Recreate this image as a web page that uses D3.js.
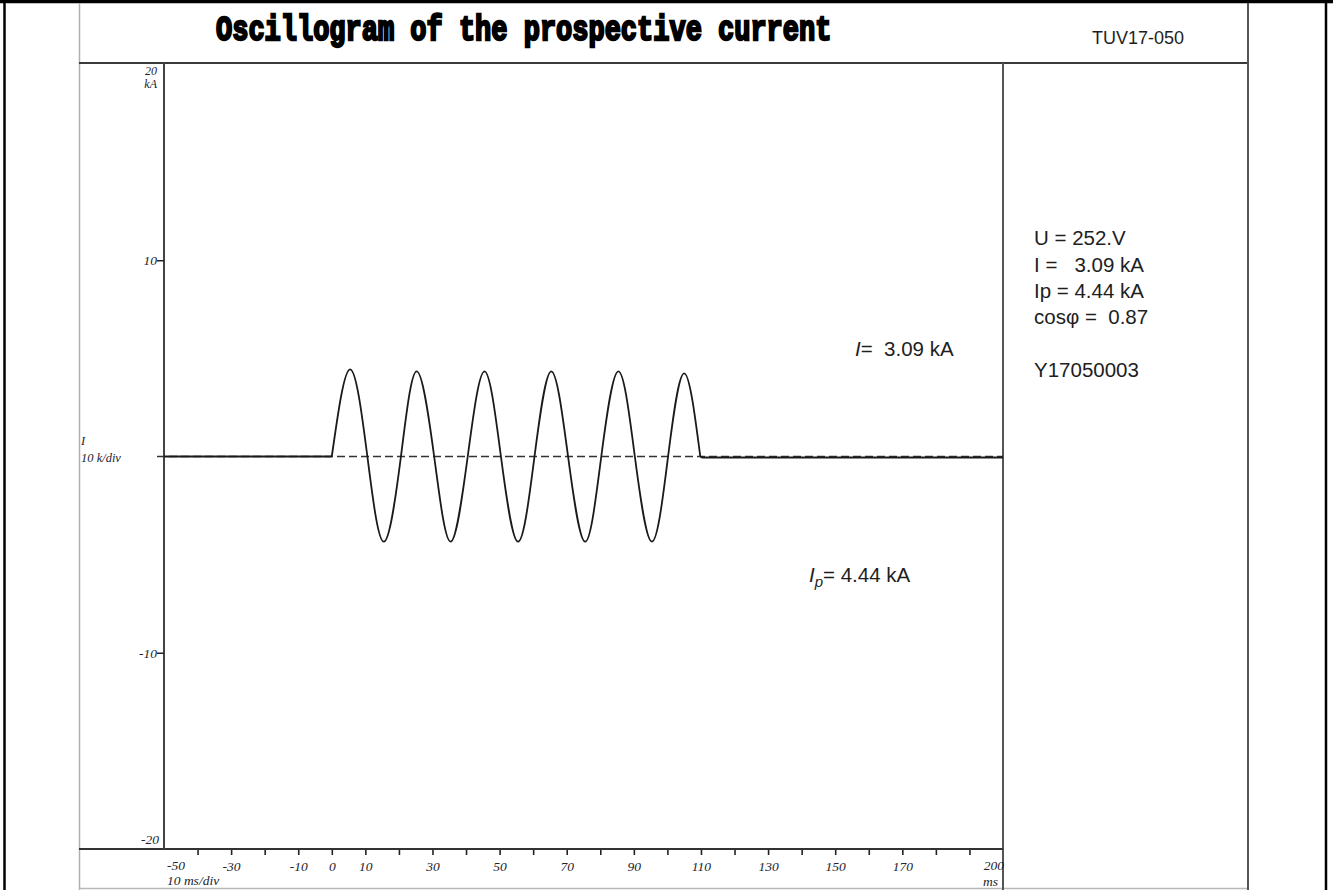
<!DOCTYPE html>
<html>
<head>
<meta charset="utf-8">
<script src="https://cdn.jsdelivr.net/npm/d3@7/dist/d3.min.js"></script>
<style>
  html, body { margin: 0; padding: 0; background: #fff; }
  svg { display: block; }
  .serif { font-family: "Liberation Serif", "Times New Roman", serif; font-style: italic; fill: #23232e; }
  .sans { font-family: "Liberation Sans", Arial, sans-serif; fill: #1e1e1e; white-space: pre; }
</style>
</head>
<body>
<svg id="chart" width="1333" height="890"></svg>
<script>
// Time axis (ms): tick marks and the labels printed under them
const xTickMarks = [-40, -30, -20, -10, 0, 10, 20, 30, 40, 50, 60, 70, 80, 90, 100, 110, 120, 130, 140, 150, 160, 170, 180, 190];
const xTickLabels = [-30, -10, 0, 10, 30, 50, 70, 90, 110, 130, 150, 170];
const xEdgeLabels = [-50, 200];

// Current axis (kA)
const yTickMarks = [10, -10];
const yEdgeLabels = [20, -20];

// Trace before the making instant (ms, kA)
const preTime = [-50, 0];
const preCurrent = [0, 0];

// Oscillation: zero crossings, crests and troughs (ms, kA)
const waveTime = [0, 5.46, 10.6, 15.5, 20.6, 25.3, 30.5, 35.4, 40.5, 45.5, 50.4, 55.5, 60.4, 65.4, 70.4, 75.5, 80.3, 85.4, 90.3, 95.4, 100.2, 105.0, 109.8];
const waveCurrent = [0, 4.44, 0, -4.34, 0, 4.34, 0, -4.34, 0, 4.34, 0, -4.34, 0, 4.34, 0, -4.34, 0, 4.34, 0, -4.34, 0, 4.24, 0];

// Trace after the current is interrupted (ms, kA)
const postTime = [109.8, 110.3, 200];
const postCurrent = [0, -0.05, -0.05];

// Test results
const resultLines = ["U = 252.V", "I =   3.09 kA", "Ip = 4.44 kA", "cosφ =  0.87"];
const recordId = "Y17050003";
const reportId = "TUV17-050";
const titleText = "Oscillogram of the prospective current";

const svg = d3.select("#chart");

const x = d3.scaleLinear().domain([-50, 200]).range([164, 1003]);
const y = d3.scaleLinear().domain([-20, 20]).range([849, 64]);

// ---- frame ----
const frame = svg.append("g");
// outer black border
frame.append("line").attr("x1", 0).attr("x2", 1333).attr("y1", 1.5).attr("y2", 1.5).attr("stroke", "#000").attr("stroke-width", 3.5);
frame.append("line").attr("x1", 4.5).attr("x2", 4.5).attr("y1", 0).attr("y2", 890).attr("stroke", "#000").attr("stroke-width", 2.5);
frame.append("line").attr("x1", 1326).attr("x2", 1326).attr("y1", 0).attr("y2", 890).attr("stroke", "#000").attr("stroke-width", 2.5);
// sheet left edge and bottom
frame.append("line").attr("x1", 79.5).attr("x2", 79.5).attr("y1", 3).attr("y2", 890).attr("stroke", "#b0b0b0").attr("stroke-width", 1.5);
frame.append("line").attr("x1", 79).attr("x2", 1248).attr("y1", 888.5).attr("y2", 888.5).attr("stroke", "#b8b8b8").attr("stroke-width", 1.5);
// header bottom
frame.append("line").attr("x1", 79).attr("x2", 1249).attr("y1", 63).attr("y2", 63).attr("stroke", "#3a3a3a").attr("stroke-width", 2);
// right column edge
frame.append("line").attr("x1", 1248).attr("x2", 1248).attr("y1", 3).attr("y2", 890).attr("stroke", "#555").attr("stroke-width", 2);
// plot right edge
frame.append("line").attr("x1", x(200)).attr("x2", x(200)).attr("y1", 63).attr("y2", 890).attr("stroke", "#555").attr("stroke-width", 2);

// ---- header ----
svg.append("text")
  .attr("transform", "translate(216,40) scale(1,1.3)")
  .attr("font-family", "'Liberation Mono', 'Courier New', monospace")
  .attr("font-weight", "bold")
  .attr("font-size", 27)
  .attr("fill", "#000")
  .attr("stroke", "#000")
  .attr("stroke-width", 1.8)
  .style("white-space", "pre")
  .text(titleText);

svg.append("text").attr("class", "sans").attr("x", 1092).attr("y", 44).attr("font-size", 18).text(reportId);

// ---- axes ----
const tickFont = 13.5;
const xAxis = d3.axisBottom(x)
  .tickValues(xTickMarks)
  .tickSize(6)
  .tickPadding(6)
  .tickFormat(d => xTickLabels.includes(d) ? d3.format("d")(d).replace("−", "-") : "");

const gx = svg.append("g").attr("transform", `translate(0,${y(-20)})`).call(xAxis);
gx.select(".domain").remove();
gx.selectAll(".tick line").attr("stroke", "#222").attr("stroke-width", 1.6);
gx.selectAll(".tick text").attr("class", "serif").attr("font-size", tickFont).attr("fill", "#23232e");

// bottom axis line runs from the sheet edge to the plot edge
svg.append("line").attr("x1", 79).attr("x2", x(200)).attr("y1", y(-20)).attr("y2", y(-20)).attr("stroke", "#333").attr("stroke-width", 2);
// left axis line
svg.append("line").attr("x1", x(-50)).attr("x2", x(-50)).attr("y1", 63).attr("y2", y(-20)).attr("stroke", "#444").attr("stroke-width", 2);

// end labels of the time axis
svg.append("text").attr("class", "serif").attr("x", x(xEdgeLabels[0]) + 3).attr("y", 870).attr("font-size", tickFont).text(xEdgeLabels[0]);
svg.append("text").attr("class", "serif").attr("x", x(xEdgeLabels[1]) + 1).attr("y", 870).attr("font-size", tickFont).attr("text-anchor", "end").text(xEdgeLabels[1]);
svg.append("text").attr("class", "serif").attr("x", x(-50) + 3).attr("y", 885).attr("font-size", tickFont).text("10 ms/div");
svg.append("text").attr("class", "serif").attr("x", x(200) - 5).attr("y", 886).attr("font-size", tickFont).attr("text-anchor", "end").text("ms");

const yAxis = d3.axisLeft(y)
  .tickValues(yTickMarks)
  .tickSize(7)
  .tickPadding(0)
  .tickFormat(d => d3.format("d")(d).replace("−", "-"));
const gy = svg.append("g").attr("transform", `translate(${x(-50)},0)`).call(yAxis);
gy.select(".domain").remove();
gy.selectAll(".tick line").attr("stroke", "#222").attr("stroke-width", 1.5);
gy.selectAll(".tick text").attr("class", "serif").attr("font-size", tickFont).attr("fill", "#23232e");

svg.append("text").attr("class", "serif").attr("x", 157).attr("y", y(yEdgeLabels[0]) + 11).attr("font-size", 12).attr("text-anchor", "end").text(yEdgeLabels[0]);
svg.append("text").attr("class", "serif").attr("x", 157).attr("y", y(yEdgeLabels[0]) + 24).attr("font-size", 12).attr("text-anchor", "end").text("kA");
svg.append("text").attr("class", "serif").attr("x", 159).attr("y", y(yEdgeLabels[1]) - 5).attr("font-size", tickFont).attr("text-anchor", "end").text(yEdgeLabels[1]);
svg.append("text").attr("class", "serif").attr("x", 81).attr("y", y(0) - 12).attr("font-size", 12.5).text("I");
svg.append("text").attr("class", "serif").attr("x", 81).attr("y", y(0) + 5).attr("font-size", 12.5).text("10 k/div");

// zero reference line
svg.append("line")
  .attr("x1", x(-50) - 7).attr("x2", x(200))
  .attr("y1", y(0)).attr("y2", y(0))
  .attr("stroke", "#333").attr("stroke-width", 1.5)
  .attr("stroke-dasharray", "8,4");

// ---- current trace ----
const trace = svg.append("g").attr("fill", "none").attr("stroke", "#1a1a1a").attr("stroke-width", 1.8).attr("stroke-linejoin", "round");

const straight = d3.line().x(d => x(d[0])).y(d => y(d[1]));
const smooth = d3.line().x(d => x(d[0])).y(d => y(d[1])).curve(d3.curveNatural);

trace.append("path").attr("d", straight(d3.zip(preTime, preCurrent)));
trace.append("path").attr("d", smooth(d3.zip(waveTime, waveCurrent)));
trace.append("path").attr("d", straight(d3.zip(postTime, postCurrent)));

// ---- annotations in the plot ----
const rmsLabel = svg.append("text").attr("class", "sans").attr("x", 855).attr("y", 356).attr("font-size", 20.5);
rmsLabel.append("tspan").attr("font-style", "italic").text("I");
rmsLabel.append("tspan").text("=  3.09 kA");

const peakLabel = svg.append("text").attr("class", "sans").attr("x", 809).attr("y", 582).attr("font-size", 20.5);
peakLabel.append("tspan").attr("font-style", "italic").text("I");
peakLabel.append("tspan").attr("font-style", "italic").attr("font-size", 15).attr("dy", 5).text("p");
peakLabel.append("tspan").attr("dy", -5).text("= 4.44 kA");

// ---- results column ----
const resBaselines = [245, 271.5, 297.5, 324];
resultLines.forEach((t, i) => {
  svg.append("text").attr("class", "sans").attr("x", 1034).attr("y", resBaselines[i]).attr("font-size", 20.5).text(t);
});
svg.append("text").attr("class", "sans").attr("x", 1034).attr("y", 377).attr("font-size", 20.5).text(recordId);
</script>
</body>
</html>
